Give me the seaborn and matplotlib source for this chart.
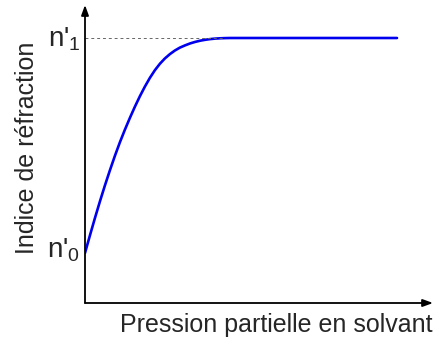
import matplotlib
matplotlib.use("Agg")
import matplotlib.pyplot as plt
import seaborn as sns
import pandas as pd

# Relative partial pressure of solvent (0 = dry, 1 = end of the range drawn)
pressure = [0.0, 0.016, 0.032, 0.048, 0.064, 0.080, 0.096, 0.112, 0.128,
            0.144, 0.160, 0.176, 0.192, 0.208, 0.224, 0.240, 0.256, 0.272,
            0.288, 0.304, 0.321, 0.337, 0.353, 0.369, 0.385, 0.401, 0.417,
            0.433, 0.449, 0.465, 1.0]
# Refractive index, normalised between n'0 (0) and n'1 (1)
index = [0.0, 0.0828, 0.1633, 0.2408, 0.3150, 0.3854, 0.4526, 0.5156,
         0.5740, 0.6288, 0.6808, 0.7294, 0.7741, 0.8147, 0.8502, 0.8801,
         0.9048, 0.9249, 0.9417, 0.9552, 0.9659, 0.9748, 0.9818, 0.9874,
         0.9916, 0.9949, 0.9972, 0.9986, 0.9995, 1.0, 1.0]
plateau_start = 0.45
tick_values = [0.0, 1.0]
tick_labels = [r"n'$_\mathregular{0}$", r"n'$_\mathregular{1}$"]

sns.set_style("white")
plt.rcParams["font.family"] = ["Liberation Sans", "DejaVu Sans"]
plt.rcParams["mathtext.fontset"] = "custom"
plt.rcParams["mathtext.rm"] = "Liberation Sans"
plt.rcParams["mathtext.it"] = "Liberation Sans"

W, H = 433, 340
fig = plt.figure(figsize=(W / 100, H / 100), dpi=100)
ax = fig.add_axes([85 / W, 37 / H, 348 / W, 298 / H])

df = pd.DataFrame({"p": pressure, "n": index})
sns.lineplot(data=df, x="p", y="n", ax=ax, color="#0000ee", linewidth=1.9,
             sort=False, estimator=None)

ax.set_xlim(0, 348 / 312)
ax.set_ylim(-50 / 215, 248 / 215)

# dashed guide at n'1
ax.plot([0, plateau_start], [1, 1], color="#666666", linewidth=0.7,
        linestyle=(0, (3, 3)))

# axes drawn as arrows
for s in ax.spines.values():
    s.set_visible(False)
arrow = dict(arrowstyle="-|>,head_length=0.6,head_width=0.22", color="black",
             linewidth=1.3, shrinkA=0, shrinkB=0)
ax.annotate("", xy=(0, 1), xytext=(0, 0), xycoords="axes fraction",
            textcoords="axes fraction", arrowprops=arrow)
ax.annotate("", xy=(1, 0), xytext=(0, 0), xycoords="axes fraction",
            textcoords="axes fraction", arrowprops=arrow)

ax.set_xticks([])
ax.set_yticks([])
ax.set_xlabel("")
ax.set_ylabel("")

# n' labels beside the y axis
baseline_drop = {0.0: -2.9, 1.0: -6.3}
for val, lab in zip(tick_values, tick_labels):
    ax.annotate(lab, xy=(0, val), xycoords="data",
                xytext=(-3.2, baseline_drop[val]), textcoords="offset points",
                ha="right", va="baseline", fontsize=20,
                annotation_clip=False)

fig.text(27 / W, 1 - 148 / H, "Indice de réfraction", rotation=90,
         ha="center", va="center", fontsize=18)
fig.text(276 / W, 1 - 325 / H, "Pression partielle en solvant",
         ha="center", va="center", fontsize=18)

fig.savefig("out.png", dpi=100)
